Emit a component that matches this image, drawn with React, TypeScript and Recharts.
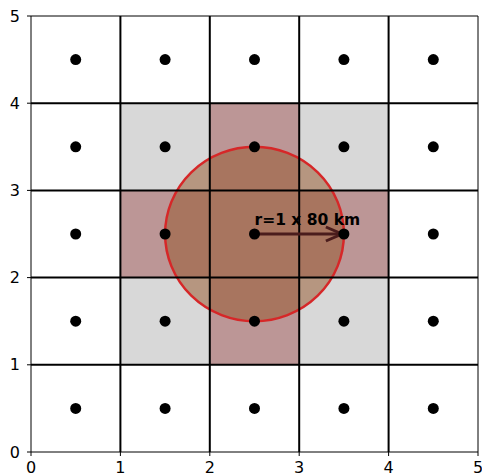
import React from "react";
import {
  ScatterChart,
  Scatter,
  XAxis,
  YAxis,
  ReferenceArea,
  ReferenceLine,
} from "recharts";

const ticks = [0, 1, 2, 3, 4, 5];
const gridLines = [1, 2, 3, 4];
const centers = [0.5, 1.5, 2.5, 3.5, 4.5];
const greyCells = [
  [1, 3],
  [3, 3],
  [1, 1],
  [3, 1],
];
const roseCells = [
  [2, 3],
  [1, 2],
  [2, 2],
  [3, 2],
  [2, 1],
];
const circleCenter = [2.5, 2.5];
const circleRadius = 1;
const arrowStart = [2.5, 2.5];
const arrowEnd = [3.5, 2.5];
const arrowLabel = "r=1 x 80 km";

const points = centers.flatMap((x) => centers.map((y) => ({ x, y })));

const FONT = "DejaVu Sans, sans-serif";

const Ellipse = (props: any) => {
  const { x, y, width, height } = props;
  return (
    <ellipse
      cx={x + width / 2}
      cy={y + height / 2}
      rx={Math.abs(width) / 2}
      ry={Math.abs(height) / 2}
      fill="rgb(148,84,40)"
      fillOpacity={0.5}
      stroke="#d62728"
      strokeWidth={2.5}
    />
  );
};

const Arrow = (props: any) => {
  const { x1, y1, x2, y2 } = props;
  return (
    <g>
      <line x1={x1} y1={y1} x2={x2 - 2} y2={y2} stroke="#4a1c1c" strokeWidth={3} />
      <polyline
        points={`${x2 - 18},${y2 - 7} ${x2 - 2},${y2} ${x2 - 18},${y2 + 7}`}
        fill="none"
        stroke="#4a1c1c"
        strokeWidth={3}
      />
      <text
        x={x1}
        y={y1 - 9}
        fontFamily={FONT}
        fontWeight="bold"
        fontSize={15.5}
        fill="#000"
      >
        {arrowLabel}
      </text>
    </g>
  );
};

const Dot = (props: any) => <circle cx={props.cx} cy={props.cy} r={5.5} fill="#000" />;

export default function App() {
  return (
    <div style={{ position: "absolute", left: 0, top: 0 }}>
      <ScatterChart
        width={482}
        height={476}
        margin={{ top: 16, right: 4, bottom: 0, left: 0 }}
      >
        <XAxis
          type="number"
          dataKey="x"
          domain={[0, 5]}
          ticks={ticks}
          interval={0}
          allowDataOverflow
          height={24}
          tickSize={4}
          tickMargin={6}
          stroke="#000"
          tick={{ fill: "#000", fontFamily: FONT, fontSize: 16 }}
        />
        <YAxis
          type="number"
          dataKey="y"
          domain={[0, 5]}
          ticks={ticks}
          interval={0}
          allowDataOverflow
          width={31}
          tickSize={4}
          tickMargin={7}
          stroke="#000"
          tick={{ fill: "#000", fontFamily: FONT, fontSize: 16 }}
        />
        {greyCells.map(([cx, cy], i) => (
          <ReferenceArea
            key={"g" + i}
            x1={cx}
            x2={cx + 1}
            y1={cy}
            y2={cy + 1}
            fill="#d8d8d8"
            fillOpacity={1}
            stroke="none"
          />
        ))}
        {roseCells.map(([cx, cy], i) => (
          <ReferenceArea
            key={"r" + i}
            x1={cx}
            x2={cx + 1}
            y1={cy}
            y2={cy + 1}
            fill="#bc9696"
            fillOpacity={1}
            stroke="none"
          />
        ))}
        <ReferenceArea
          x1={circleCenter[0] - circleRadius}
          x2={circleCenter[0] + circleRadius}
          y1={circleCenter[1] - circleRadius}
          y2={circleCenter[1] + circleRadius}
          shape={Ellipse}
        />
        {gridLines.map((v) => (
          <ReferenceLine key={"vx" + v} x={v} stroke="#000" strokeWidth={2} />
        ))}
        {gridLines.map((v) => (
          <ReferenceLine key={"hy" + v} y={v} stroke="#000" strokeWidth={2} />
        ))}
        <ReferenceLine x={5} stroke="#000" strokeWidth={1} />
        <ReferenceLine y={5} stroke="#000" strokeWidth={1} />
        <Scatter data={points} shape={Dot} isAnimationActive={false} />
        <ReferenceLine
          segment={[
            { x: arrowStart[0], y: arrowStart[1] },
            { x: arrowEnd[0], y: arrowEnd[1] },
          ]}
          shape={Arrow}
        />
      </ScatterChart>
    </div>
  );
}
